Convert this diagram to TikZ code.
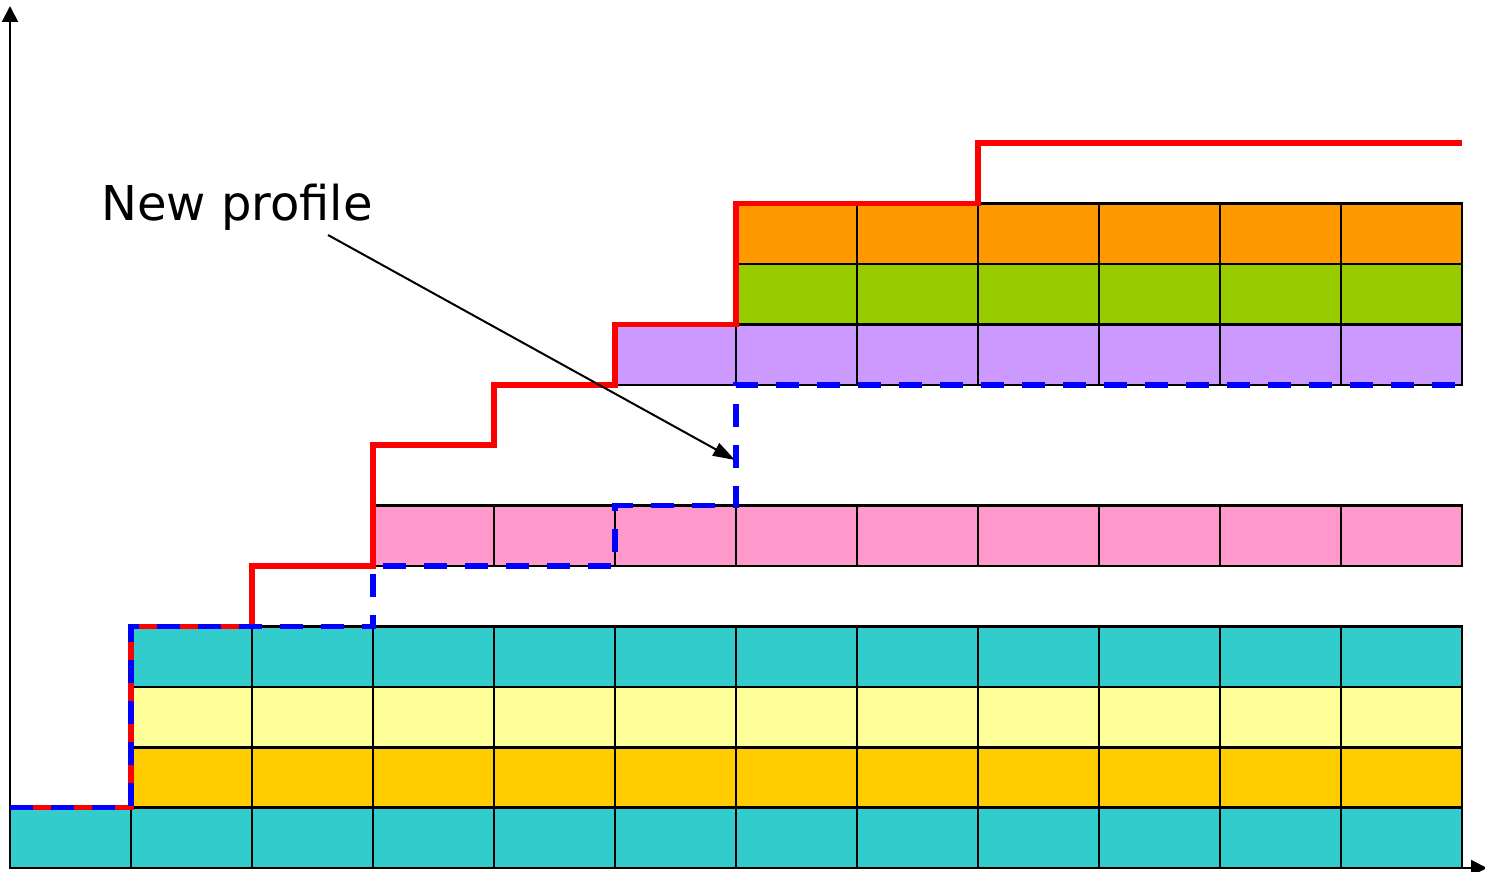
\documentclass[tikz,border=0pt]{standalone}
\usepackage{fontspec}
\setmainfont{DejaVu Sans}
\usetikzlibrary{arrows.meta}
\definecolor{cteal}{HTML}{33CCCC}
\definecolor{cgold}{HTML}{FFCC00}
\definecolor{clyel}{HTML}{FFFF99}
\definecolor{cpink}{HTML}{FF99CC}
\definecolor{clav}{HTML}{CC99FF}
\definecolor{cgreen}{HTML}{99CC00}
\definecolor{corange}{HTML}{FF9900}
\definecolor{cred}{HTML}{FF0000}
\definecolor{cblue}{HTML}{0000FF}
\begin{document}
\begin{tikzpicture}[x=0.5pt,y=-0.5pt,
  cell/.style={draw=black,line width=1.3pt},
  axis/.style={line width=1pt,-{Triangle[length=8pt,width=8pt]}},
  redline/.style={draw=cred,line width=2.8pt,line join=miter},
  blueline/.style={draw=cblue,line width=2.8pt,dash pattern=on 11.5pt off 9pt,line join=miter},
  pointer/.style={line width=1pt,-{Triangle[length=11pt,width=7pt]}},
  lbl/.style={font=\fontsize{24}{28}\selectfont,inner sep=0pt}]
\useasboundingbox (0,0) rectangle (1485,872);
% cells
\foreach \row/\first/\col in {0/0/cteal,1/1/cgold,2/1/clyel,3/1/cteal,5/3/cpink,8/5/clav,9/6/cgreen,10/6/corange}{
  \foreach \c in {\first,...,11}{
    \filldraw[cell,fill=\col] ({10+121*\c},{868-60.4*\row}) rectangle ++(121,-60.4);
  }
}
% axes
\coordinate (origin) at (10,868);
\coordinate (ytop) at (10,6);
\coordinate (xend) at (1487,868);
\draw[axis] (origin) -- (ytop);
\draw[axis] (origin) -- (xend);
% red profile
\draw[redline] (10,807.6) -- (131,807.6) -- (131,626.4) -- (252,626.4) -- (252,566) -- (373,566)
  -- (373,445.2) -- (494,445.2) -- (494,384.8) -- (615,384.8) -- (615,324.4) -- (736,324.4)
  -- (736,203.6) -- (978,203.6) -- (978,143.2) -- (1462,143.2);
% blue dashed profile
\draw[blueline] (10,807.6) -- (131,807.6) -- (131,626.4) -- (373,626.4) -- (373,566) -- (615,566)
  -- (615,505.6) -- (736,505.6) -- (736,384.8) -- (1462,384.8);
% label and pointer
\node[lbl] (label) at (237,207) {New profile};
\coordinate (src) at (328,235);
\coordinate (tip) at (735,460);
\draw[pointer] (src) -- (tip);
\end{tikzpicture}
\end{document}
